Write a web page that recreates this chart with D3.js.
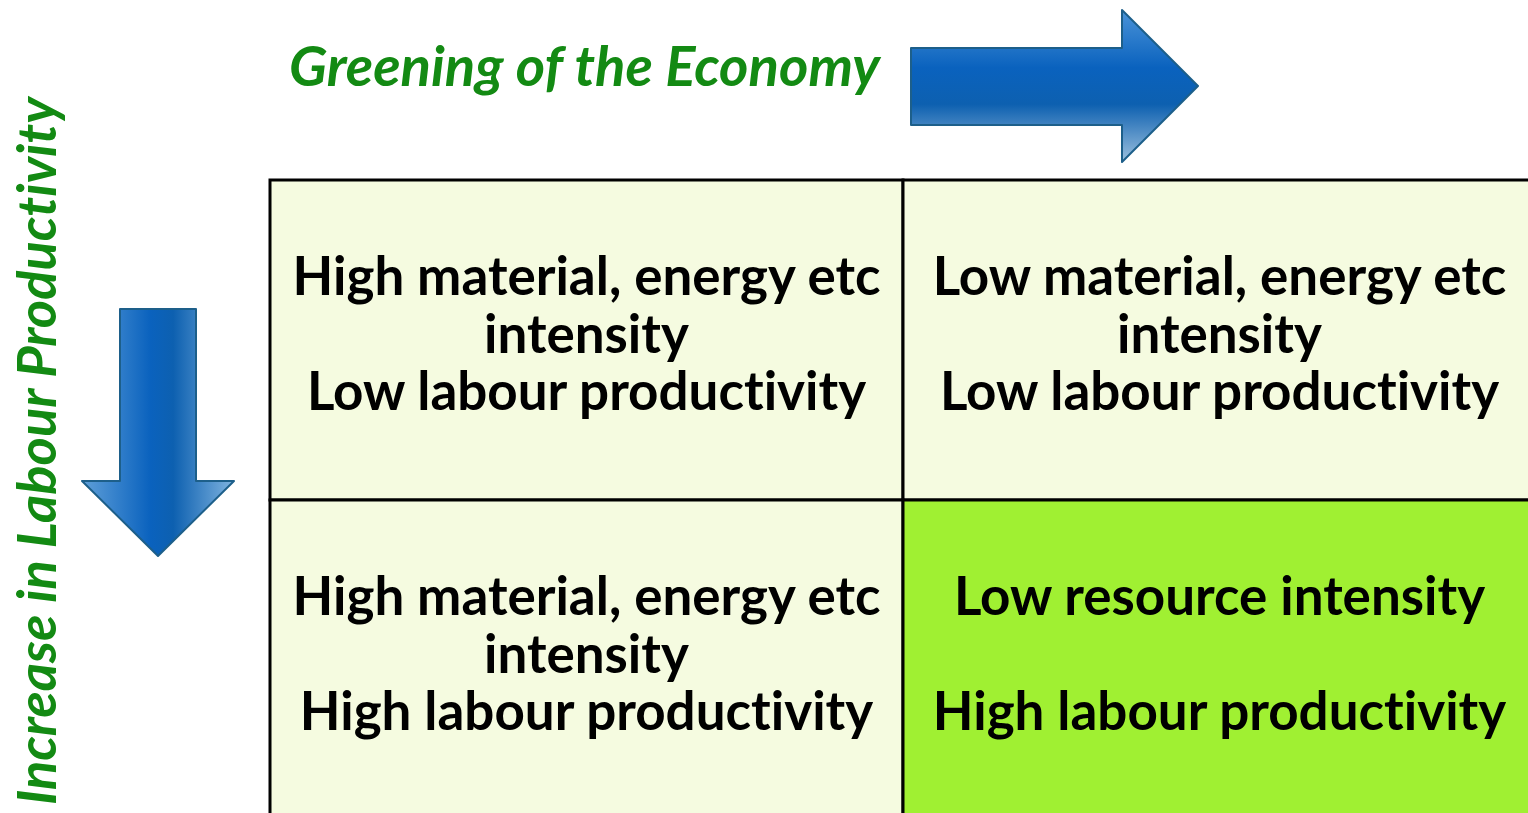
<!DOCTYPE html>
<html>
<head>
<meta charset="utf-8">
<script src="https://d3js.org/d3.v7.min.js"></script>
<style>
body { margin: 0; background: #fff; }
svg { display: block; }
.cellText { font-family: "Lato", "DejaVu Sans", sans-serif; font-weight: bold; text-anchor: middle; fill: #000; font-variant-ligatures: none; }
.axisTitle { font-family: "Lato", "DejaVu Sans", sans-serif; font-weight: bold; font-style: italic; fill: #138a13; font-variant-ligatures: none; }
</style>
</head>
<body>
<div id="chart"></div>
<script>
// quadrant data
var columns = ["material", "green"];
var rows = ["lowLabour", "highLabour"];
var cells = [
  {col: "material", row: "lowLabour",  lines: ["High material, energy etc", "intensity", "Low labour productivity"], fill: "#f5fbe0"},
  {col: "green",    row: "lowLabour",  lines: ["Low material, energy etc", "intensity", "Low labour productivity"], fill: "#f5fbe0"},
  {col: "material", row: "highLabour", lines: ["High material, energy etc", "intensity", "High labour productivity"], fill: "#f5fbe0"},
  {col: "green",    row: "highLabour", lines: ["Low resource intensity", "", "High labour productivity"], fill: "#a0f032"}
];
var xTitle = "Greening of the Economy";
var yTitle = "Increase in Labour Productivity";

var width = 1528, height = 813;

var svg = d3.select("#chart").append("svg")
    .attr("width", width)
    .attr("height", height);

var defs = svg.append("defs");
var gH = defs.append("linearGradient").attr("id", "gradH")
    .attr("x1", 0).attr("y1", 0).attr("x2", 0).attr("y2", 1);
gH.append("stop").attr("offset", "0%").attr("stop-color", "#4a93d8");
gH.append("stop").attr("offset", "38%").attr("stop-color", "#0a62be");
gH.append("stop").attr("offset", "62%").attr("stop-color", "#0d60b0");
gH.append("stop").attr("offset", "100%").attr("stop-color", "#9cc0de");
var gV = defs.append("linearGradient").attr("id", "gradV")
    .attr("x1", 0).attr("y1", 0).attr("x2", 1).attr("y2", 0);
gV.append("stop").attr("offset", "0%").attr("stop-color", "#5f9fd8");
gV.append("stop").attr("offset", "45%").attr("stop-color", "#0a62be");
gV.append("stop").attr("offset", "60%").attr("stop-color", "#0d60b0");
gV.append("stop").attr("offset", "100%").attr("stop-color", "#80b4e0");

// grid scales
var xScale = d3.scaleBand().domain(columns).range([270, 1536]);
var yScale = d3.scaleBand().domain(rows).range([180, 820]);

var cell = svg.selectAll("g.cell")
    .data(cells)
    .enter().append("g")
    .attr("class", "cell");

cell.append("rect")
    .attr("x", function(d) { return xScale(d.col); })
    .attr("y", function(d) { return yScale(d.row); })
    .attr("width", xScale.bandwidth())
    .attr("height", yScale.bandwidth())
    .attr("fill", function(d) { return d.fill; })
    .attr("stroke", "#000")
    .attr("stroke-width", 3);

// font size: fit the longest line to the measured width in the picture
var probe = svg.append("text").attr("class", "cellText").attr("font-size", 46).text("High material, energy etc");
var w = probe.node().getComputedTextLength();
probe.remove();
var fs = 46 * 588 / w;

var lineGap = 57.5;
cell.each(function(d) {
  var g = d3.select(this);
  var cx = xScale(d.col) + xScale.bandwidth() / 2;
  var cy = yScale(d.row) + yScale.bandwidth() / 2 - 6;
  d.lines.forEach(function(t, i) {
    g.append("text")
      .attr("class", "cellText")
      .attr("font-size", fs)
      .attr("x", cx)
      .attr("y", cy + (i - 1) * lineGap)
      .attr("dy", "0.35em")
      .text(t);
  });
});

// titles
var tp = svg.append("text").attr("class", "axisTitle").attr("font-size", 46).text(xTitle);
var tw = tp.node().getComputedTextLength();
tp.remove();
var tfs = 46 * 591 / tw;

svg.append("text")
    .attr("class", "axisTitle")
    .attr("font-size", tfs)
    .attr("x", 289)
    .attr("y", 86)
    .text(xTitle);

var vp = svg.append("text").attr("class", "axisTitle").attr("font-size", 46).text(yTitle);
var vw = vp.node().getComputedTextLength();
vp.remove();

svg.append("text")
    .attr("class", "axisTitle")
    .attr("font-size", 46 * 708 / vw)
    .attr("transform", "translate(56,805) rotate(-90)")
    .text(yTitle);

// arrows
var line = d3.line();
var rightArrow = [[911, 48], [1122, 48], [1122, 10], [1198, 86], [1122, 162], [1122, 125], [911, 125]];
var downArrow = [[120, 309], [196, 309], [196, 481], [234, 481], [158, 556], [82, 481], [120, 481]];

svg.append("path")
    .attr("d", line(rightArrow) + "Z")
    .attr("fill", "url(#gradH)")
    .attr("stroke", "#1d5f8a")
    .attr("stroke-width", 2)
    .attr("stroke-linejoin", "round");

svg.append("path")
    .attr("d", line(downArrow) + "Z")
    .attr("fill", "url(#gradV)")
    .attr("stroke", "#1d5f8a")
    .attr("stroke-width", 2)
    .attr("stroke-linejoin", "round");
</script>
</body>
</html>
